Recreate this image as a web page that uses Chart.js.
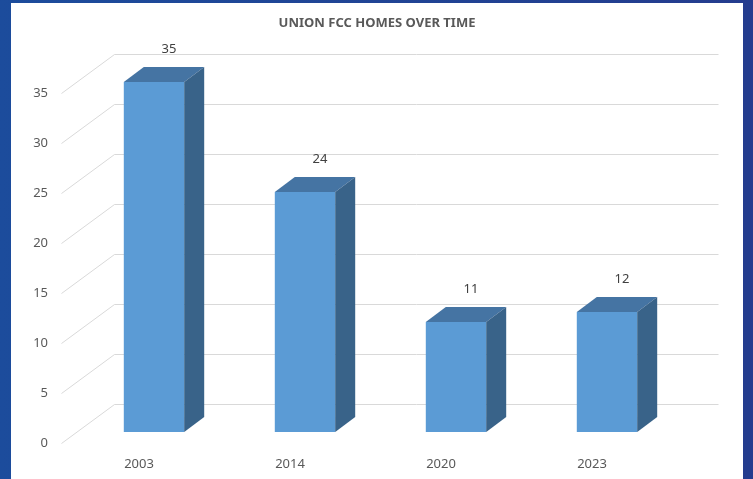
<!DOCTYPE html>
<html>
<head>
<meta charset="utf-8">
<script src="https://cdn.jsdelivr.net/npm/chart.js@4"></script>
<style>
  html, body { margin: 0; padding: 0; }
  body { width: 753px; height: 479px; background: linear-gradient(90deg, #1c4c9c, #243c8e); position: relative; overflow: hidden; }
  #panel { position: absolute; left: 11px; top: 3px; width: 732px; height: 476px; background: #fff; }
</style>
</head>
<body>
<div id="panel"><canvas id="chart" width="732" height="476"></canvas></div>
<script>
// values
const years = ['2003', '2014', '2020', '2023'];
const homes = [35, 24, 11, 12];
const yTicks = [0, 5, 10, 15, 20, 25, 30, 35];

const DEPTH_X = 20, DEPTH_Y = 15;       // bar depth
const WALL_X = 53, WALL_Y = 39;         // floor / back wall depth
const labelFont = "13px 'Noto Sans', sans-serif";

// back wall grid lines with the diagonal side lines
const wallGrid = {
    id: 'wallGrid',
    beforeDatasetsDraw(chart) {
        const ctx = chart.ctx;
        const y = chart.scales.y;
        const left = chart.chartArea.left - 17;
        ctx.save();
        ctx.strokeStyle = '#d9d9d9';
        ctx.lineWidth = 1;
        yTicks.forEach(v => {
            const py = Math.round(y.getPixelForValue(v)) + 0.5;
            ctx.beginPath();
            ctx.moveTo(left, py + 11);
            ctx.lineTo(left + WALL_X, py + 11 - WALL_Y);
            ctx.lineTo(chart.chartArea.right + 36, py + 11 - WALL_Y);
            ctx.stroke();
        });
        ctx.restore();
    }
};

// top and side faces, then value labels
const bars3d = {
    id: 'bars3d',
    afterDatasetsDraw(chart) {
        const ctx = chart.ctx;
        const meta = chart.getDatasetMeta(0);
        ctx.save();
        meta.data.forEach((bar, i) => {
            const l = bar.x - bar.width / 2, r = bar.x + bar.width / 2;
            const t = bar.y, b = bar.base;
            ctx.fillStyle = '#4574a3';
            ctx.beginPath();
            ctx.moveTo(l, t);
            ctx.lineTo(r, t);
            ctx.lineTo(r + DEPTH_X, t - DEPTH_Y);
            ctx.lineTo(l + DEPTH_X, t - DEPTH_Y);
            ctx.closePath();
            ctx.fill();
            ctx.fillStyle = '#396389';
            ctx.beginPath();
            ctx.moveTo(r, t);
            ctx.lineTo(r + DEPTH_X, t - DEPTH_Y);
            ctx.lineTo(r + DEPTH_X, b - DEPTH_Y);
            ctx.lineTo(r, b);
            ctx.closePath();
            ctx.fill();

            ctx.fillStyle = '#404040';
            ctx.font = labelFont;
            ctx.textAlign = 'center';
            ctx.textBaseline = 'middle';
            ctx.fillText(String(homes[i]), bar.x + 15, t - 33);
        });
        ctx.restore();
    }
};

new Chart(document.getElementById('chart'), {
    type: 'bar',
    data: {
        labels: years,
        datasets: [{
            data: homes,
            backgroundColor: '#5b9bd5',
            borderWidth: 0,
            categoryPercentage: 1,
            barPercentage: 0.4
        }]
    },
    options: {
        responsive: false,
        animation: false,
        layout: { padding: 0 },
        plugins: {
            legend: { display: false },
            tooltip: { enabled: false },
            title: {
                display: true,
                text: 'UNION FCC HOMES OVER TIME',
                color: '#595959',
                font: { family: "'Liberation Sans Narrow', 'Noto Sans', sans-serif", size: 13, weight: 'bold' },
                padding: { top: 12, bottom: 51.4 }
            }
        },
        scales: {
            x: {
                grid: { display: false, drawTicks: false },
                border: { display: false },
                ticks: {
                    color: '#595959',
                    font: { family: "'Noto Sans', sans-serif", size: 13 },
                    padding: 24,
                    labelOffset: -15,
                    maxRotation: 0
                },
                afterFit(scale) { scale.height = 47; }
            },
            y: {
                min: 0,
                max: 35,
                grid: { display: false, drawTicks: false },
                border: { display: false },
                ticks: {
                    stepSize: 5,
                    color: '#595959',
                    font: { family: "'Noto Sans', sans-serif", size: 13 },
                    padding: 30.5,
                    labelOffset: 11
                },
                afterFit(scale) { scale.width = 67.5; }
            },
            // empty right axis, only keeps room for the back wall
            yRight: {
                position: 'right',
                min: 0,
                max: 35,
                grid: { display: false, drawTicks: false },
                border: { display: false },
                ticks: { display: false },
                afterFit(scale) { scale.width = 60.5; }
            }
        }
    },
    plugins: [wallGrid, bars3d]
});
</script>
</body>
</html>
